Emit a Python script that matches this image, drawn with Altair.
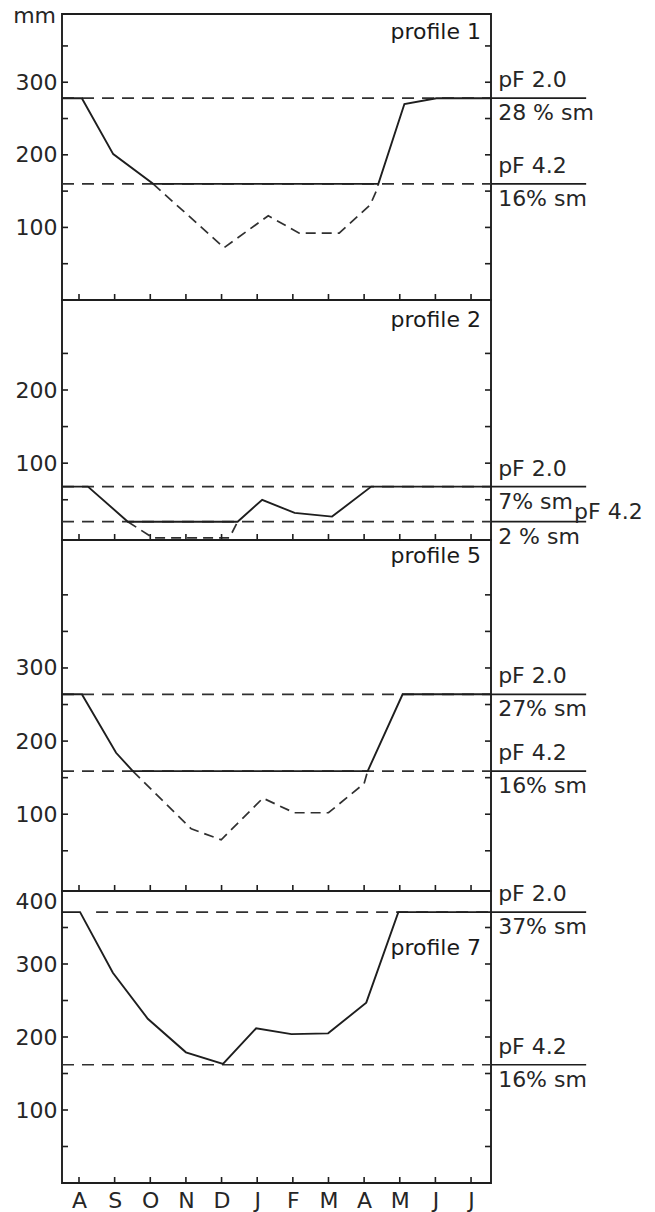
import json
import altair as alt
import pandas as pd

# ---------------- data ----------------
MONTHS = ["A", "S", "O", "N", "D", "J", "F", "M", "A", "M", "J", "J"]
MONTH_POS = list(range(12))
X_LEFT, X_RIGHT, X_EXT = -0.477, 11.56, 14.23
LABEL_X = 11.76

# profile 1
P1_LEVELS = [278, 160]
P1_START = [X_LEFT, X_LEFT]
P1_SOLID_X = [X_LEFT, 0.08, 0.96, 2.08, 8.40, 9.13, 10.03, X_RIGHT]
P1_SOLID_Y = [278, 278, 201, 160, 160, 270, 278, 278]
P1_DASH_X = [2.08, 4.07, 5.31, 6.18, 7.30, 8.17, 8.34, 8.40]
P1_DASH_Y = [160, 72, 116, 92, 92, 131, 150, 160]
P1_UPPER = ["pF 2.0", "pF 4.2"]
P1_LOWER = ["28 % sm", "16% sm"]

# profile 2
P2_LEVELS = [68, 20]
P2_START = [X_LEFT, X_LEFT]
P2_SOLID_X = [X_LEFT, 0.25, 1.37, 4.45, 5.14, 6.05, 7.10, 8.20, X_RIGHT]
P2_SOLID_Y = [68, 68, 20, 20, 50, 32, 27, 68, 68]
P2_DASH_X = [1.37, 2.07, 4.08, 4.22, 4.45]
P2_DASH_Y = [20, -2, -2, -2, 20]
P2_UPPER = ["pF 2.0"]
P2_LOWER = ["7% sm", "2 % sm"]
P2_INLINE = ["pF 4.2"]

# profile 5
P5_LEVELS = [264, 159]
P5_START = [X_LEFT, X_LEFT]
P5_SOLID_X = [X_LEFT, 0.08, 1.04, 1.51, 8.10, 9.08, X_RIGHT]
P5_SOLID_Y = [264, 264, 184, 159, 159, 264, 264]
P5_DASH_X = [1.51, 3.15, 3.99, 5.16, 6.04, 7.00, 8.00, 8.10]
P5_DASH_Y = [159, 80, 65, 122, 102, 102, 142, 159]
P5_UPPER = ["pF 2.0", "pF 4.2"]
P5_LOWER = ["27% sm", "16% sm"]

# profile 7
P7_LEVELS = [371, 162]
P7_START = [0.48, X_LEFT]
P7_SOLID_X = [X_LEFT, 0.03, 0.95, 1.93, 3.00, 4.04, 4.97, 5.96, 6.99, 8.06, 8.96, X_RIGHT]
P7_SOLID_Y = [371, 371, 288, 225, 179, 163, 212, 204, 205, 247, 371, 371]
P7_UPPER = ["pF 2.0", "pF 4.2"]
P7_LOWER = ["37% sm", "16% sm"]

# ---------------- style ----------------
FONT = "DejaVu Sans"
INK = "#1e1e1e"
TXT = "#262626"
FS = 22
W = 429
LABEL_EXPR = json.dumps(MONTHS) + "[datum.value]"


def panel(height, ydom, ylabels, ytop, levels, starts, sx, sy, dxs, dys,
          upper, lower, inline, profile, profile_y, bottom=False,
          flush=False, mm=False):
    xs = alt.Scale(domain=[X_LEFT, X_RIGHT], nice=False, zero=False)
    ys = alt.Scale(domain=ydom, nice=False, zero=False)
    if bottom:
        xaxis = alt.Axis(values=MONTH_POS, labelExpr=LABEL_EXPR, ticks=False,
                         domain=False, grid=False, labelPadding=7,
                         labelFontSize=FS, labelFont=FONT, labelColor=TXT,
                         labelFlush=False, labelOverlap=False, title=None)
    else:
        xaxis = None
    yaxis = alt.Axis(values=ylabels, ticks=False, domain=False, grid=False,
                     labelPadding=5, labelFontSize=FS, labelFont=FONT,
                     labelColor=TXT, labelFlush=flush, title=None)

    def X(f):
        return alt.X(f, type="quantitative", scale=xs, axis=xaxis)

    def Y(f):
        return alt.Y(f, type="quantitative", scale=ys, axis=yaxis)

    layers = []
    ref = pd.DataFrame({"x0": starts, "x1": [X_RIGHT] * len(levels), "y": levels})
    layers.append(alt.Chart(ref).mark_rule(color="#303030", strokeWidth=1.7,
                                           strokeDash=[12, 8]).encode(
        x=X("x0"), x2=alt.X2("x1"), y=Y("y")))
    ext = pd.DataFrame({"x0": [X_RIGHT] * len(levels), "x1": [X_EXT] * len(levels),
                        "y": levels})
    layers.append(alt.Chart(ext).mark_rule(color=INK, strokeWidth=1.7).encode(
        x=X("x0"), x2=alt.X2("x1"), y=Y("y")))
    if dxs:
        dd = pd.DataFrame({"x": dxs, "y": dys, "o": list(range(len(dxs)))})
        layers.append(alt.Chart(dd).mark_line(color="#303030", strokeWidth=1.7,
                                              strokeDash=[10, 6]).encode(
            x=X("x"), y=Y("y"), order="o:Q"))
    sd = pd.DataFrame({"x": sx, "y": sy, "o": list(range(len(sx)))})
    layers.append(alt.Chart(sd).mark_line(color=INK, strokeWidth=1.9).encode(
        x=X("x"), y=Y("y"), order="o:Q"))

    yt = pd.DataFrame({"v": list(range(50, ytop + 1, 50))})
    layers.append(alt.Chart(yt).mark_rule(color=INK, strokeWidth=1.6).encode(
        y=Y("v"), x=alt.value(0), x2=alt.value(6)))
    layers.append(alt.Chart(yt).mark_rule(color=INK, strokeWidth=1.6).encode(
        y=Y("v"), x=alt.value(W - 6), x2=alt.value(W)))
    xt = pd.DataFrame({"m": MONTH_POS})
    layers.append(alt.Chart(xt).mark_rule(color=INK, strokeWidth=1.6).encode(
        x=X("m"), y=alt.value(height), y2=alt.value(height - 6)))

    def texts(items, dy, x=LABEL_X):
        d = pd.DataFrame(items, columns=["t", "y"])
        d["x"] = x
        return alt.Chart(d).mark_text(align="left", baseline="alphabetic", dy=dy,
                                      font=FONT, fontSize=FS, color=TXT).encode(
            x=X("x"), y=Y("y"), text="t:N")

    if upper:
        lv = levels if len(upper) == len(levels) else levels[:len(upper)]
        layers.append(texts(list(zip(upper, lv)), -11))
    layers.append(texts(list(zip(lower, levels)), 22))
    if inline:
        layers.append(texts(list(zip(inline, levels[1:])), -3, x=13.89))

    pl = pd.DataFrame({"t": [profile], "x": [X_RIGHT], "y": [profile_y]})
    layers.append(alt.Chart(pl).mark_text(align="right", baseline="alphabetic",
                                          dx=-10, font=FONT, fontSize=FS,
                                          color="#1a1a1a").encode(
        x=X("x"), y=Y("y"), text="t:N"))
    if mm:
        md = pd.DataFrame({"t": ["mm"], "x": [X_LEFT], "y": [ydom[1]]})
        layers.append(alt.Chart(md).mark_text(align="right", baseline="alphabetic",
                                              dx=-6, dy=9, font=FONT,
                                              fontSize=FS, color=TXT).encode(
            x=X("x"), y=Y("y"), text="t:N"))
    return alt.layer(*layers).properties(width=W, height=height)


p1 = panel(286, [0, 394], [100, 200, 300], 350, P1_LEVELS, P1_START,
           P1_SOLID_X, P1_SOLID_Y, P1_DASH_X, P1_DASH_Y, P1_UPPER, P1_LOWER,
           None, "profile 1", 360, mm=True)
p2 = panel(240, [-5, 323], [100, 200], 250, P2_LEVELS, P2_START,
           P2_SOLID_X, P2_SOLID_Y, P2_DASH_X, P2_DASH_Y, P2_UPPER, P2_LOWER,
           P2_INLINE, "profile 2", 286)
p5 = panel(351, [-5, 475], [100, 200, 300], 400, P5_LEVELS, P5_START,
           P5_SOLID_X, P5_SOLID_Y, P5_DASH_X, P5_DASH_Y, P5_UPPER, P5_LOWER,
           None, "profile 5", 444)
p7 = panel(292, [0, 400], [100, 200, 300, 400], 350, P7_LEVELS, P7_START,
           P7_SOLID_X, P7_SOLID_Y, None, None, P7_UPPER, P7_LOWER,
           None, "profile 7", 312, bottom=True, flush=True)

chart = alt.vconcat(p1, p2, p5, p7, spacing=0, bounds="flush").properties(
    padding={"left": 12, "top": 4, "right": 5, "bottom": 0}
).configure_view(stroke=INK, strokeWidth=1.9)

chart.save("out.html", embed_options={"renderer": "svg", "actions": False})
